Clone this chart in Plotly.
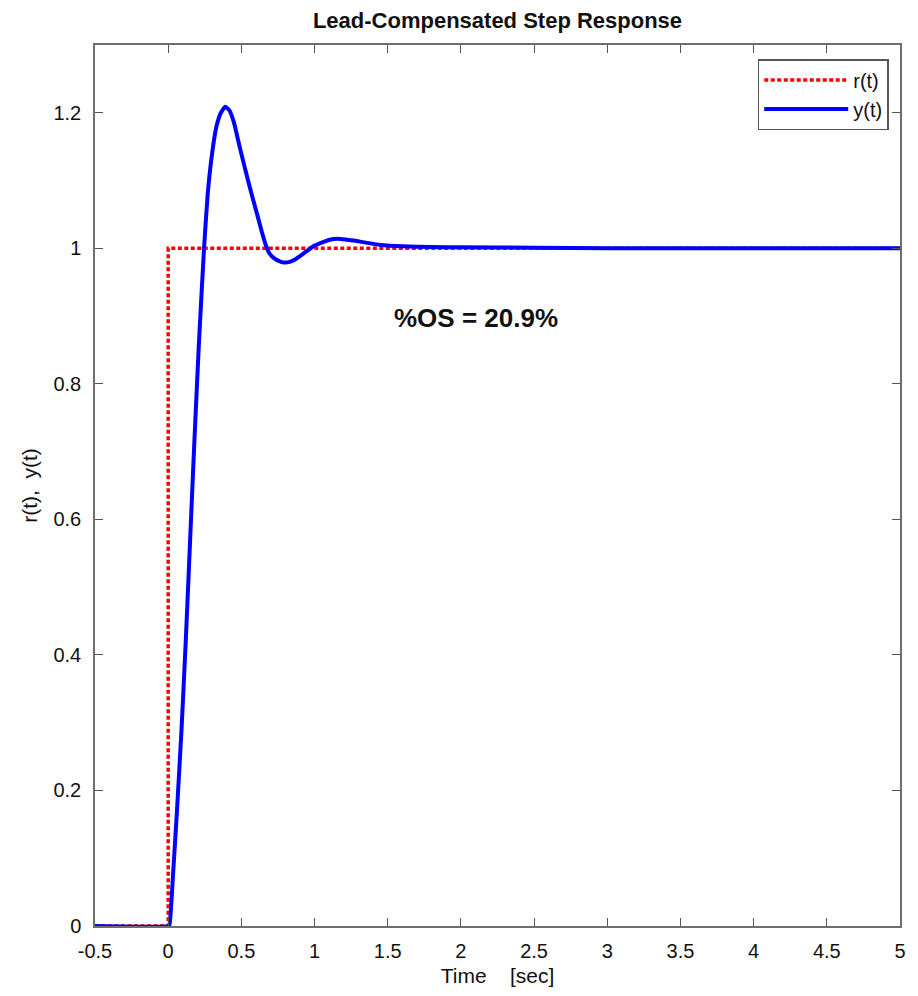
import plotly.graph_objects as go

# Reference input r(t)
r_t = [-0.5, 0.0, 0.0, 5.0]
r_y = [0.0, 0.0, 1.0, 1.0]

# Output y(t)
y_t = [-0.5, 0.0, 0.01, 0.033, 0.06, 0.09, 0.12, 0.15, 0.18, 0.21, 0.245, 0.27, 0.30, 0.33,
       0.36, 0.39, 0.42, 0.45, 0.488, 0.52, 0.549, 0.58, 0.613, 0.64, 0.67, 0.69, 0.71,
       0.74, 0.77, 0.795, 0.83, 0.87, 0.91, 0.954, 1.0, 1.067, 1.11, 1.158, 1.21, 1.28,
       1.36, 1.45, 1.6, 1.8, 2.0, 2.5, 3.0, 4.0, 5.0]
y_y = [0.0, 0.0, 0.003, 0.075, 0.17, 0.285, 0.42, 0.57, 0.72, 0.86, 1.0, 1.08, 1.14, 1.18,
       1.20, 1.209, 1.203, 1.185, 1.150, 1.122, 1.097, 1.072, 1.046, 1.024, 1.003, 0.993, 0.988,
       0.983, 0.980, 0.979, 0.980, 0.984, 0.990, 0.997, 1.004, 1.010, 1.013, 1.014, 1.013, 1.011,
       1.008, 1.005, 1.003, 1.002, 1.0015, 1.001, 1.0, 1.0, 1.0]

x_ticks = [-0.5, 0, 0.5, 1, 1.5, 2, 2.5, 3, 3.5, 4, 4.5, 5]
x_tick_text = ["-0.5", "0", "0.5", "1", "1.5", "2", "2.5", "3", "3.5", "4", "4.5", "5"]
y_ticks = [0, 0.2, 0.4, 0.6, 0.8, 1.0, 1.2]
y_tick_text = ["0", "0.2", "0.4", "0.6", "0.8", "1", "1.2"]

FONT = "Arial, Liberation Sans, Helvetica, sans-serif"

fig = go.Figure()
fig.add_trace(go.Scatter(x=r_t, y=r_y, mode="lines", name="r(t)",
                         line=dict(color="#ff0000", width=3.5, dash="4px,2.5px")))
fig.add_trace(go.Scatter(x=y_t, y=y_y, mode="lines", name="y(t)",
                         line=dict(color="#0000ff", width=4, shape="spline", smoothing=0.4)))

axis_common = dict(showgrid=False, zeroline=False, showline=True, mirror="ticks",
                   linecolor="#6e6e6e", linewidth=1.5, ticks="inside", ticklen=8,
                   tickcolor="#555555", tickwidth=1,
                   tickfont=dict(family=FONT, size=20, color="#111111"))

fig.update_layout(
    width=918, height=996,
    paper_bgcolor="white", plot_bgcolor="white",
    margin=dict(l=95, r=16, t=45, b=63),
    title=dict(text="<b>Lead-Compensated Step Response</b>", x=0.5, xanchor="center",
               xref="paper", y=0.98, yanchor="middle",
               font=dict(family=FONT, size=22, color="#111111")),
    xaxis=dict(range=[-0.5, 5], tickvals=x_ticks, ticktext=x_tick_text,
               ticklabelstandoff=6,
               title=dict(text="Time    [sec]", standoff=8,
                          font=dict(family=FONT, size=21, color="#111111")),
               **axis_common),
    yaxis=dict(range=[0, 1.3], tickvals=y_ticks, ticktext=y_tick_text,
               ticklabelstandoff=8,
               title=dict(text="r(t),  y(t)", standoff=10,
                          font=dict(family=FONT, size=21, color="#111111")),
               **axis_common),
    legend=dict(x=0.986, y=0.984, xanchor="right", yanchor="top",
                bgcolor="white", bordercolor="#555555", borderwidth=1.5,
                font=dict(family=FONT, size=20, color="#111111"),
                itemwidth=84, tracegroupgap=0),
    showlegend=True,
)

fig.add_annotation(x=2.10, y=0.897, text="<b>%OS = 20.9%</b>", showarrow=False,
                   font=dict(family=FONT, size=26, color="#111111"))

fig.write_html("out.html", config={"displayModeBar": False},
               post_script="document.body.style.margin='0';document.body.style.overflow='hidden';")
